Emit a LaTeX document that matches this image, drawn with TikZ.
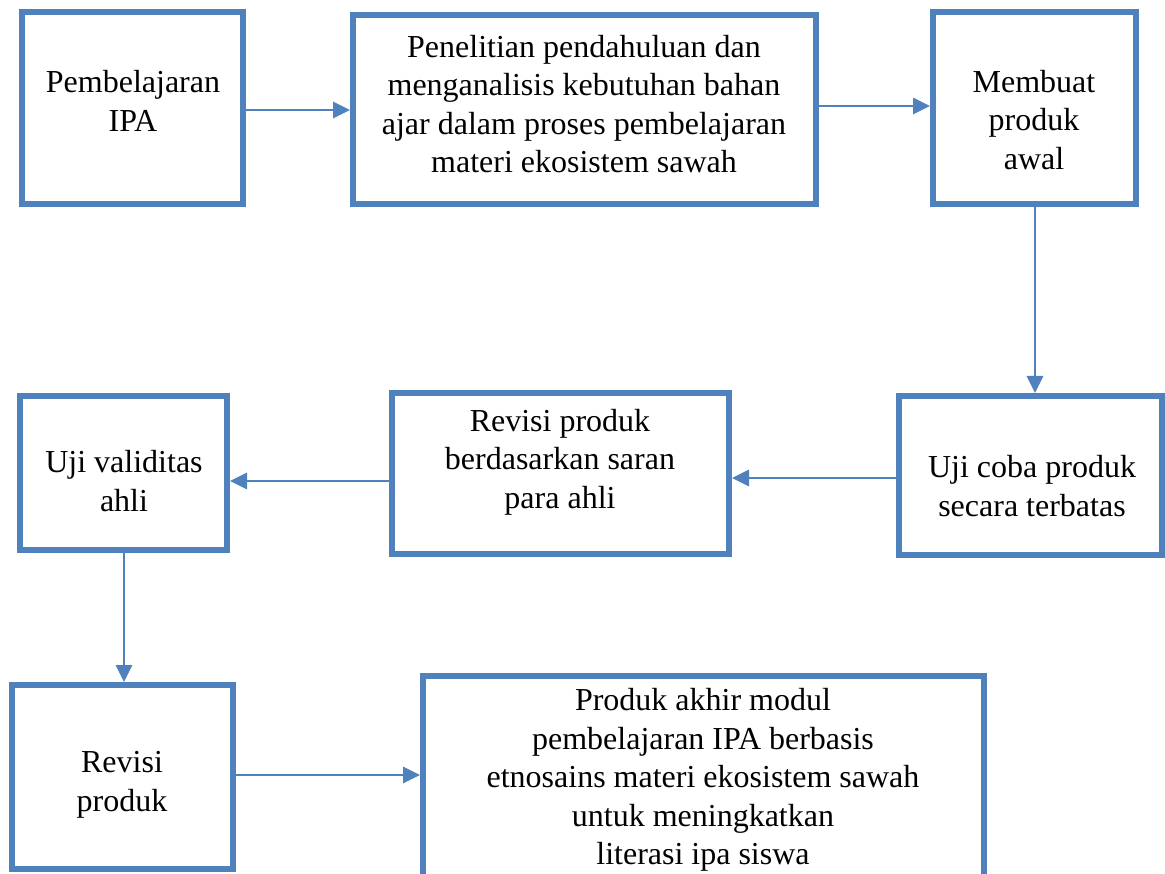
\documentclass[tikz,border=0pt]{standalone}
\usepackage{fontspec}
\setmainfont{Liberation Serif}
\usetikzlibrary{arrows.meta}
\definecolor{boxblue}{HTML}{4F81BD}
\tikzset{
  box/.style={draw=boxblue, line width=6pt, fill=white, inner sep=0pt},
  lbl/.style={align=center, inner sep=0pt, font=\fontsize{32pt}{38.5pt}\selectfont},
  arr/.style={draw=boxblue, line width=2.8pt, -{Triangle[length=17pt,width=16pt]}},
}
\begin{document}
\begin{tikzpicture}[x=1pt,y=-1pt]
\useasboundingbox (0,0) rectangle (1165,874);
\clip (0,0) rectangle (1165,874);
\fill[white] (0,0) rectangle (1165,874);
% boxes
\node[box, minimum width=221pt, minimum height=192pt] (b1) at (132.5,108.5) {};
\node[box, minimum width=463pt, minimum height=189pt] (b2) at (584.5,109.5) {};
\node[box, minimum width=203pt, minimum height=192pt] (b3) at (1034.5,108) {};
\node[box, minimum width=207pt, minimum height=154pt] (b4) at (123.5,473) {};
\node[box, minimum width=337pt, minimum height=161pt] (b5) at (560.5,473.5) {};
\node[box, minimum width=263pt, minimum height=159pt] (b6) at (1030.5,475.5) {};
\node[box, minimum width=221pt, minimum height=184pt] (b7) at (122.5,777) {};
\node[box, minimum width=561pt, minimum height=224pt] (b8) at (703.5,788) {};
% labels
\node[lbl] (t1) at (133,101) {Pembelajaran\\IPA};
\node[lbl] (t2) at (584,104) {Penelitian pendahuluan dan\\menganalisis kebutuhan bahan\\ajar dalam proses pembelajaran\\materi ekosistem sawah};
\node[lbl] (t3) at (1034,120) {Membuat\\produk\\awal};
\node[lbl] (t4) at (124,481) {Uji validitas\\ahli};
\node[lbl] (t5) at (560,462) {Revisi produk\\berdasarkan saran\\para ahli};
\node[lbl] (t6) at (1032,486) {Uji coba produk\\secara terbatas};
\node[lbl] (t7) at (122,785) {Revisi\\produk};
\node[lbl] (t8) at (703,780) {Produk akhir modul\\pembelajaran IPA berbasis\\etnosains materi ekosistem sawah\\untuk meningkatkan\\literasi ipa siswa};
% arrow levels
\coordinate (y1) at (0,110);
\coordinate (y2) at (0,106);
\coordinate (y4) at (0,478);
\coordinate (y5) at (0,481);
\coordinate (y7) at (0,775);
\coordinate (x3) at (1035,0);
\coordinate (x6) at (124,0);
% connectors
\draw[arr] (b1.east |- y1) -- (b2.west |- y1);
\draw[arr] (b2.east |- y2) -- (b3.west |- y2);
\draw[arr] (x3 |- b3.south) -- (x3 |- b6.north);
\draw[arr] (b6.west |- y4) -- (b5.east |- y4);
\draw[arr] (b5.west |- y5) -- (b4.east |- y5);
\draw[arr] (x6 |- b4.south) -- (x6 |- b7.north);
\draw[arr] (b7.east |- y7) -- (b8.west |- y7);
\end{tikzpicture}
\end{document}
